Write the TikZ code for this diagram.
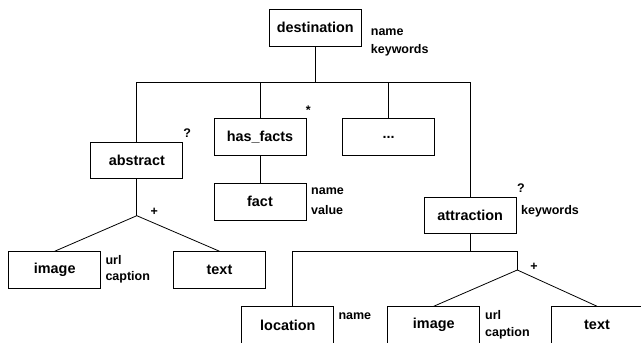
\documentclass[tikz,border=0pt]{standalone}
\usepackage{fontspec}
\setmainfont{Liberation Sans}
\begin{document}
\begin{tikzpicture}[x=1pt,y=-1pt,
  box/.style={draw, line width=0.9pt, minimum width=92pt, minimum height=36.6pt, inner sep=0pt,
    font=\fontsize{14.4}{16}\selectfont\bfseries},
  note/.style={anchor=west, inner sep=0pt, text height=0.52em, text depth=0pt,
    font=\fontsize{12.5}{14}\selectfont\bfseries},
  sym/.style={inner sep=0pt, font=\fontsize{12.5}{14}\selectfont\bfseries},
  conn/.style={line width=0.8pt}]
\useasboundingbox (0,0) rectangle (641,343);
% boxes
\node[box] (dest) at (315.3,27.7) {destination};
\node[box] (abs)  at (136.8,160.5) {abstract\hspace{16pt}};
\node[box] (hf)   at (260,137) {has\_facts\hspace{5pt}};
\node[box] (dots) at (388.5,137) {...};
\node[box] (fact) at (260,201.7) {fact};
\node[box] (attr) at (470.2,215.3) {attraction};
\node[box] (img1) at (54.7,270) {image};
\node[box] (txt1) at (219.5,270) {text};
\node[box] (loc)  at (287.8,325) {location};
\node[box] (img2) at (433.8,325) {image};
\node[box] (txt2) at (597,325) {text};
% annotations
\node[note] (n1) at (370.7,33.3) {name};
\node[note] (n2) at (370.7,50.7) {keywords};
\node[note] (n3) at (105.3,261.7) {url};
\node[note] (n4) at (105.3,278.3) {caption};
\node[note] (n5) at (311,192.3) {name};
\node[note] (n6) at (311,211.7) {value};
\node[note] (n7) at (521,212.3) {keywords};
\node[note] (n8) at (338.3,316.7) {name};
\node[note] (n9) at (485,316.7) {url};
\node[note] (n10) at (485,334.3) {caption};
% symbols
\node[sym, anchor=base] (s1) at (308.3,114.2) {*};
\node[sym] (s2) at (187.3,133.3) {?};
\node[sym] (s3) at (154.3,211.7) {+};
\node[sym] (s4) at (521,188.3) {?};
\node[sym] (s5) at (534,266.7) {+};
% connectors
\coordinate (bus) at (315.3,82.3);
\coordinate (j1) at (136.8,215.7);
\coordinate (bus2) at (470.2,251.7);
\coordinate (b2L) at (292.5,251.7);
\coordinate (b2R) at (517.3,251.7);
\coordinate (j2) at (517.3,270);
\draw[conn] (dest.south) -- (bus);
\draw[conn] (abs.north) -- (abs.north |- bus) -- (attr.north |- bus) -- (attr.north);
\draw[conn] (hf.north) -- (hf.north |- bus);
\draw[conn] (dots.north) -- (dots.north |- bus);
\draw[conn] (hf.south) -- (fact.north);
\draw[conn] (abs.south) -- (j1);
\draw[conn] (img1.north) -- (j1) -- (txt1.north);
\draw[conn] (attr.south) -- (bus2);
\draw[conn] (loc.north -| b2L) -- (b2L) -- (b2R) -- (j2);
\draw[conn] (img2.north) -- (j2) -- (txt2.north);
\end{tikzpicture}
\end{document}
